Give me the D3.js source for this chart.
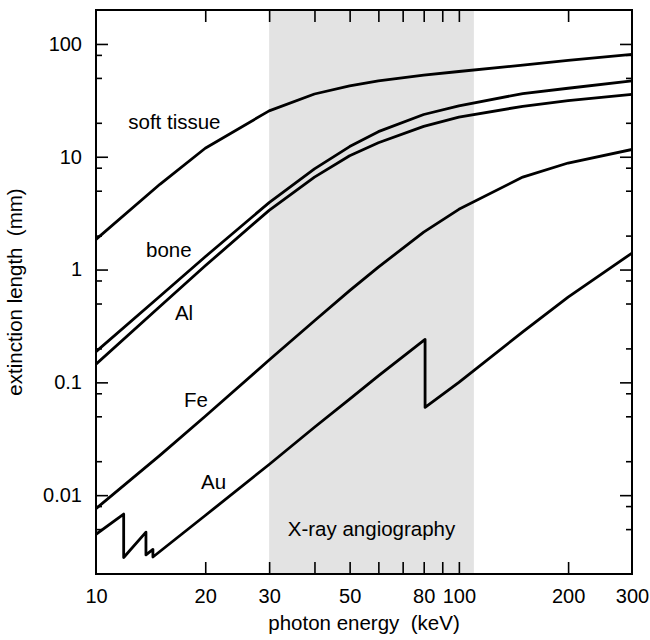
<!DOCTYPE html>
<html>
<head>
<meta charset="utf-8">
<script src="https://cdn.jsdelivr.net/npm/d3@7/dist/d3.min.js"></script>
<style>
  html, body { margin: 0; padding: 0; background: #fff; }
  svg { display: block; }
  text { font-family: "Liberation Sans", Arial, Helvetica, sans-serif; fill: #000; white-space: pre; }
</style>
</head>
<body>
<svg id="chart" width="650" height="640"></svg>
<script>
// ---- data (photon energy keV, extinction length mm) ----
const energies = [10, 15, 20, 30, 40, 50, 60, 80, 100, 150, 200, 300];
const softTissue = [1.85, 5.7, 11.9, 25.5, 36, 42.5, 47, 53, 57, 65, 71.5, 81];
const bone = [0.187, 0.58, 1.3, 3.92, 7.8, 12.3, 16.7, 23.7, 28.3, 36.3, 40.5, 47];
const aluminium = [0.145, 0.47, 1.08, 3.35, 6.6, 10.2, 13.3, 18.6, 22.5, 28, 31.5, 35.8];
const iron = [0.0076, 0.0225, 0.05, 0.158, 0.352, 0.65, 1.05, 2.15, 3.42, 6.6, 8.8, 11.6];
const goldEnergies = [10, 11.92, 11.92, 13.73, 13.73, 14.35, 14.35, 20, 30, 40, 50, 60, 80.7, 80.7, 100, 150, 200, 300];
const gold = [0.0045, 0.0068, 0.0028, 0.0047, 0.00295, 0.0033, 0.00283, 0.0066, 0.0187, 0.040, 0.071, 0.114, 0.24, 0.06, 0.1, 0.28, 0.57, 1.4];

const seriesLabels = ["soft tissue", "bone", "Al", "Fe", "Au"];
const bandRange = [30, 110];
const bandLabel = "X-ray angiography";

const xDomain = [10, 300];
const yDomain = [0.002, 200];
const xTicks = [20, 30, 40, 50, 60, 70, 80, 90, 100, 200];
const xTickLabels = [10, 20, 30, 50, 80, 100, 200, 300];
const yMajor = [0.01, 0.1, 1, 10, 100];
const yMajorLabels = ["0.01", "0.1", "1", "10", "100"];
const yMinor = [0.005, 0.008, 0.02, 0.05, 0.08, 0.2, 0.5, 0.8, 2, 5, 8, 20, 50, 80];
const xTitle = "photon energy  (keV)";
const yTitle = "extinction length  (mm)";

// ---- layout ----
const margin = { left: 96, top: 10, right: 18, bottom: 66 };
const W = 650, H = 640;
const iw = W - margin.left - margin.right;
const ih = H - margin.top - margin.bottom;

const svg = d3.select("#chart");
const g = svg.append("g").attr("transform", `translate(${margin.left},${margin.top})`);

const x = d3.scaleLog().domain(xDomain).range([0, iw]);
const y = d3.scaleLog().domain(yDomain).range([ih, 0]);

svg.append("defs").append("clipPath").attr("id", "clip")
  .append("rect").attr("width", iw).attr("height", ih);

// shaded band
g.append("rect")
  .attr("x", x(bandRange[0])).attr("y", 0)
  .attr("width", x(bandRange[1]) - x(bandRange[0])).attr("height", ih)
  .attr("fill", "#e3e3e3");

g.append("text")
  .attr("x", (x(bandRange[0]) + x(bandRange[1])) / 2)
  .attr("y", y(0.00435))
  .attr("text-anchor", "middle")
  .style("font-size", "20.5px")
  .text(bandLabel);

// lines
const line = d3.line().x(d => x(d[0])).y(d => y(d[1]));
const allSeries = [
  d3.zip(energies, softTissue),
  d3.zip(energies, bone),
  d3.zip(energies, aluminium),
  d3.zip(energies, iron),
  d3.zip(goldEnergies, gold)
];
g.append("g").attr("clip-path", "url(#clip)")
  .selectAll("path").data(allSeries).join("path")
  .attr("d", line)
  .attr("fill", "none")
  .attr("stroke", "#000")
  .attr("stroke-width", 2.8)
  .attr("stroke-linejoin", "round");

// series labels (position in data coords: energy, value at baseline)
const labelPos = [
  [12.27, 17.5],
  [13.74, 1.3],
  [16.5, 0.357],
  [17.47, 0.0608],
  [19.47, 0.01127]
];
g.selectAll("text.lbl").data(seriesLabels).join("text")
  .attr("class", "lbl")
  .attr("x", (d, i) => x(labelPos[i][0]))
  .attr("y", (d, i) => y(labelPos[i][1]))
  .style("font-size", "20.5px")
  .text(d => d);

// axes
function styleAxis(sel) {
  sel.select(".domain").remove();
  sel.selectAll(".tick line").attr("stroke", "#000").attr("stroke-width", 1.6);
  sel.selectAll(".tick text").style("font-size", "20px")
    .style("font-family", '"Liberation Sans", Arial, Helvetica, sans-serif');
}

// bottom ticks
g.append("g").attr("transform", `translate(0,${ih})`)
  .call(d3.axisBottom(x).tickValues(xTicks).tickSizeInner(-12).tickSizeOuter(0).tickFormat(""))
  .call(styleAxis);
// bottom labels
g.append("g").attr("transform", `translate(0,${ih})`)
  .call(d3.axisBottom(x).tickValues(xTickLabels).tickSize(0).tickPadding(15).tickFormat(d3.format("d")))
  .call(styleAxis);
// top ticks
g.append("g")
  .call(d3.axisTop(x).tickValues(xTicks).tickSizeInner(-12).tickSizeOuter(0).tickFormat(""))
  .call(styleAxis);

// left major with labels
g.append("g")
  .call(d3.axisLeft(y).tickValues(yMajor).tickSizeInner(-12).tickSizeOuter(0).tickPadding(14)
    .tickFormat((d, i) => yMajorLabels[i]))
  .call(styleAxis);
g.append("g")
  .call(d3.axisLeft(y).tickValues(yMinor).tickSizeInner(-6).tickSizeOuter(0).tickFormat(""))
  .call(styleAxis);
// right
g.append("g").attr("transform", `translate(${iw},0)`)
  .call(d3.axisRight(y).tickValues(yMajor).tickSizeInner(-12).tickSizeOuter(0).tickFormat(""))
  .call(styleAxis);
g.append("g").attr("transform", `translate(${iw},0)`)
  .call(d3.axisRight(y).tickValues(yMinor).tickSizeInner(-6).tickSizeOuter(0).tickFormat(""))
  .call(styleAxis);

// frame
g.append("rect").attr("width", iw).attr("height", ih)
  .attr("fill", "none").attr("stroke", "#000").attr("stroke-width", 2);

// titles
svg.append("text")
  .attr("x", margin.left + iw / 2).attr("y", 630)
  .attr("text-anchor", "middle")
  .attr("xml:space", "preserve")
  .style("font-size", "20.5px")
  .text(xTitle);
svg.append("text")
  .attr("transform", `translate(22,${margin.top + ih / 2}) rotate(-90)`)
  .attr("text-anchor", "middle")
  .attr("xml:space", "preserve")
  .style("font-size", "20.5px")
  .text(yTitle);
</script>
</body>
</html>
